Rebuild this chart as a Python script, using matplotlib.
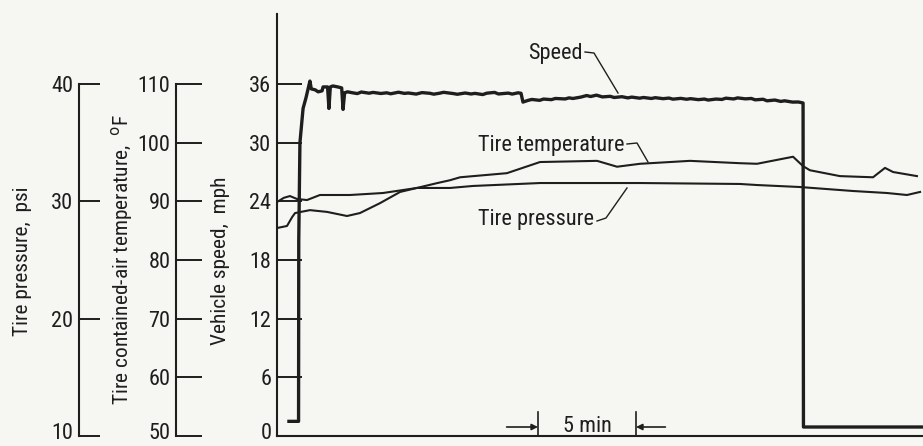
import matplotlib
matplotlib.use('Agg')
import matplotlib.pyplot as plt
from matplotlib.lines import Line2D
from matplotlib.transforms import ScaledTranslation
from matplotlib import font_manager as fm

# ---------------- data ----------------
speed_ticks = [0, 6, 12, 18, 24, 30, 36]
temp_ticks = [50, 60, 70, 80, 90, 100, 110]
pres_ticks = [10, 20, 30, 40]

speed_time = [0.61, 1.10, 1.11, 1.17, 1.33, 1.48, 1.68, 1.75, 1.95, 2.10, 2.30, 2.35,
              2.58, 2.65, 2.72, 2.85, 3.10, 3.30, 3.37, 3.45, 3.60,
              3.8, 4.1, 4.3, 4.7, 4.9, 5.3, 5.6, 5.8, 6.2, 6.5, 6.7, 7.1, 7.4, 7.8,
              8.0, 8.3, 8.5, 9.0, 9.2, 9.6, 9.9, 10.1, 10.5, 10.7, 11.1, 11.3, 11.8,
              12.0, 12.3, 12.45, 12.55, 12.8, 13.0, 13.4, 13.6, 14.0, 14.2, 14.7,
              14.9, 15.1, 15.5, 15.8, 16.0, 16.3, 16.6, 17.0, 17.2, 17.6, 17.9, 18.1,
              18.5, 18.7, 19.1, 19.3, 19.7, 20.0, 20.2, 20.6, 20.9, 21.1, 21.5, 21.8,
              22.0, 22.4, 22.7, 22.9, 23.3, 23.5, 23.9, 24.2, 24.4, 24.8, 25.0, 25.4,
              25.7, 25.9, 26.3, 26.6, 26.84, 26.86, 32.96]
speed_mph = [1.5, 1.5, 20.0, 30.0, 33.5, 34.6, 36.3, 35.5, 35.4, 35.2, 35.3, 35.7,
             35.7, 33.5, 35.7, 35.8, 35.7, 35.6, 33.4, 35.1, 35.2,
             35.12, 35.02, 35.18, 35.06, 35.14, 35.03, 35.10, 35.00, 35.16, 35.04, 35.08, 34.97, 35.12, 35.05,
             34.96, 35.06, 35.15, 35.02, 34.95, 35.08, 34.98, 35.04, 34.92, 35.06, 35.14, 34.98, 35.07,
             34.97, 35.10, 35.05, 34.15, 34.32, 34.42, 34.33, 34.46, 34.40, 34.52, 34.47,
             34.58, 34.52, 34.66, 34.82, 34.72, 34.86, 34.68, 34.74, 34.62, 34.70, 34.58, 34.66,
             34.55, 34.62, 34.52, 34.60, 34.50, 34.56, 34.45, 34.53, 34.44, 34.50, 34.40, 34.46,
             34.36, 34.46, 34.42, 34.55, 34.47, 34.58, 34.48, 34.52, 34.38, 34.44, 34.28, 34.36,
             34.22, 34.28, 34.15, 34.16, 34.06, 0.92, 0.92]

temp_time = [0.0, 0.51, 0.77, 0.92, 1.68, 2.55, 3.57, 4.23, 5.26, 6.28, 8.16, 8.83,
             9.34, 11.73, 13.42, 16.33, 17.35, 18.52, 21.07, 23.62, 24.49, 26.33,
             26.84, 27.19, 28.72, 30.41, 31.02, 31.43, 32.65]
temp_F = [85.45, 85.8, 87.3, 88.0, 88.5, 88.2, 87.5, 88.0, 89.7, 91.6, 93.1, 93.6,
          94.1, 94.8, 96.7, 96.9, 95.9, 96.4, 96.9, 96.5, 96.4, 97.6,
          96.0, 95.3, 94.3, 94.1, 95.7, 95.0, 94.3]

pres_time = [0.0, 0.35, 0.66, 1.02, 1.53, 2.19, 3.72, 5.41, 7.14, 8.83, 10.0, 13.42,
             18.52, 23.62, 24.49, 26.68, 29.39, 31.12, 32.14, 32.81]
pres_psi = [29.94, 30.3, 30.45, 30.2, 30.11, 30.54, 30.54, 30.71, 31.14, 31.14, 31.31, 31.56,
            31.56, 31.48, 31.39, 31.22, 30.88, 30.71, 30.54, 30.80]

# ---------------- fonts ----------------
names = {f.name for f in fm.fontManager.ttflist}
narrow = [n for n in ['Liberation Sans Narrow', 'Roboto Condensed', 'Open Sans Condensed',
                      'DejaVu Sans Condensed'] if n in names]
condensed_dejavu = any(f.name == 'DejaVu Sans' and 'condensed' in str(f.stretch)
                       for f in fm.fontManager.ttflist)
if narrow:
    FONT = [narrow[0], 'DejaVu Sans']
    STRETCH = 'normal'
    FS = 16
elif condensed_dejavu:
    FONT = ['DejaVu Sans']
    STRETCH = 'condensed'
    FS = 15
else:
    FONT = ['DejaVu Sans']
    STRETCH = 'normal'
    FS = 13
FS_LAB = FS - 0.6
plt.rcParams['font.family'] = FONT
plt.rcParams['font.stretch'] = STRETCH

# ---------------- layout ----------------
W, H = 923, 446
bg = '#f6f6f3'
ink = '#1e1e1e'

fig = plt.figure(figsize=(W / 100, H / 100), dpi=100)
fig.patch.set_facecolor(bg)

def fx(px):
    return px / W

def fy(py):
    return 1 - py / H

y_bot, y_top = 436, 14
ax_l, ax_r = 277, 923
px_per_mph = (436 - 84) / 36.0
speed_max = (y_bot - y_top) / px_per_mph
px_per_min = 19.6
lift = ScaledTranslation(0, 5 / 100, fig.dpi_scale_trans)

ax = fig.add_axes([fx(ax_l), fy(y_bot), (ax_r - ax_l) / W, (y_bot - y_top) / H])
ax.set_facecolor('none')
ax.set_xlim(0, (ax_r - ax_l) / px_per_min)
ax.set_ylim(0, speed_max)
for s in ['top', 'right']:
    ax.spines[s].set_visible(False)
for s in ['left', 'bottom']:
    ax.spines[s].set_color(ink)
    ax.spines[s].set_linewidth(1.5)
ax.set_xticks([])
ax.set_yticks(speed_ticks)
ax.tick_params(axis='y', direction='in', length=18, width=1.4, color=ink,
               labelsize=FS, labelcolor=ink, pad=4)
lab0 = ax.yaxis.get_major_ticks()[0].label1
lab0.set_transform(lab0.get_transform() + lift)

axT = ax.twinx()
axT.set_ylim(50, 50 + speed_max * 60 / 36)
axP = ax.twinx()
axP.set_ylim(10, 10 + speed_max * 30 / 36)
for a in (axT, axP):
    a.set_axis_off()

ax.plot(speed_time, speed_mph, color=ink, lw=2.4, solid_joinstyle='round')
axT.plot(temp_time, temp_F, color=ink, lw=1.5)
axP.plot(pres_time, pres_psi, color=ink, lw=1.5)

def scale_axis(xpx, lo, span, ticks, ticklen):
    a = fig.add_axes([fx(xpx), fy(y_bot), 40 / W, (y_bot - y_top) / H])
    a.patch.set_visible(False)
    a.set_ylim(lo, lo + speed_max * span / 36)
    for s in ['top', 'right', 'bottom']:
        a.spines[s].set_visible(False)
    a.spines['left'].set_bounds(ticks[0], ticks[-1])
    a.spines['left'].set_color(ink)
    a.spines['left'].set_linewidth(1.5)
    a.set_xticks([])
    a.set_yticks(ticks)
    a.tick_params(axis='y', direction='in', length=ticklen, width=1.4, color=ink,
                  labelsize=FS, labelcolor=ink, pad=4)
    l0 = a.yaxis.get_major_ticks()[0].label1
    l0.set_transform(l0.get_transform() + lift)
    return a

scale_axis(176, 50, 60, temp_ticks, 19)
scale_axis(79, 10, 30, pres_ticks, 15)

fig.text(fx(23), fy(261), 'Tire pressure,  psi', rotation=90, ha='center', va='center',
         fontsize=FS_LAB, color=ink)
fig.text(fx(122), fy(259), 'Tire contained-air temperature,  $^{\\mathrm{o}}$F', rotation=90,
         ha='center', va='center', fontsize=FS_LAB, color=ink)
fig.text(fx(221), fy(261), 'Vehicle speed,  mph', rotation=90, ha='center', va='center',
         fontsize=FS_LAB, color=ink)

def leader(pts):
    xs = [fx(p[0]) for p in pts]
    ys = [fy(p[1]) for p in pts]
    fig.add_artist(Line2D(xs, ys, transform=fig.transFigure, color=ink, lw=1.0))

fig.text(fx(583), fy(53), 'Speed', ha='right', va='center', fontsize=FS, color=ink)
leader([(585, 52), (594, 53), (618, 93)])
fig.text(fx(624), fy(145), 'Tire temperature', ha='right', va='center', fontsize=FS, color=ink)
leader([(627, 144), (637, 143), (648, 162)])
fig.text(fx(594), fy(219), 'Tire pressure', ha='right', va='center', fontsize=FS, color=ink)
leader([(597, 221), (606, 218), (627, 188)])

t1 = (538 - ax_l) / px_per_min
t2 = t1 + 5
ybar = (y_bot - 412) / px_per_mph
yarr = (y_bot - 427) / px_per_mph
ax.plot([t1, t1], [0, ybar], color=ink, lw=1.2)
ax.plot([t2, t2], [0, ybar], color=ink, lw=1.2)
ax.annotate('', xy=(t1, yarr), xytext=(t1 - 1.6, yarr),
            arrowprops=dict(arrowstyle='-|>', color=ink, lw=1.2, mutation_scale=9,
                            shrinkA=0, shrinkB=0))
ax.annotate('', xy=(t2, yarr), xytext=(t2 + 1.5, yarr),
            arrowprops=dict(arrowstyle='-|>', color=ink, lw=1.2, mutation_scale=9,
                            shrinkA=0, shrinkB=0))
ax.text((t1 + t2) / 2, yarr, '5 min', ha='center', va='center', fontsize=FS, color=ink)

fig.savefig('out.png', dpi=100, facecolor=bg)
